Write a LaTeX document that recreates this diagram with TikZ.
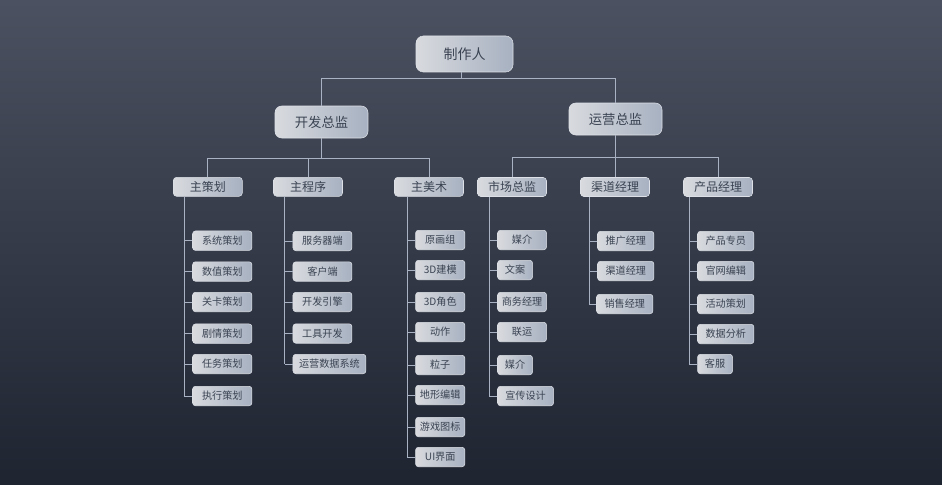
\documentclass[tikz,border=0pt]{standalone}
\usepackage{fontspec}
\setmainfont{Noto Sans CJK SC}
\usetikzlibrary{calc}
\definecolor{bgtop}{HTML}{4B5160}
\definecolor{bgbot}{HTML}{1F2431}
\definecolor{boxl}{HTML}{D8DADE}
\definecolor{boxr}{HTML}{A7B1C1}
\definecolor{boxtext}{HTML}{3A4352}
\definecolor{boxline}{HTML}{DDE1E7}
\definecolor{conncol}{HTML}{A9B2C2}
\tikzset{
  box/.style={draw=boxline, line width=0.4pt, left color=boxl, right color=boxr,
    text=boxtext, inner sep=0pt, align=center},
  topbox/.style={box, rounded corners=5.5pt, minimum width=72.75pt, minimum height=27pt,
    font=\fontsize{10.5}{12}\selectfont},
  dirbox/.style={box, rounded corners=5pt, minimum width=69.75pt, minimum height=24pt,
    font=\fontsize{10}{12}\selectfont},
  midbox/.style={box, rounded corners=2.5pt, minimum width=51.75pt, minimum height=14.25pt,
    font=\fontsize{9}{11}\selectfont},
  leaf/.style={box, rounded corners=2.2pt, minimum height=14.6pt, anchor=west,
    font=\fontsize{7.6}{9}\selectfont},
  conn/.style={draw=conncol, line width=0.75pt}
}
\begin{document}
\begin{tikzpicture}[x=0.75pt,y=-0.75pt]
\shade[top color=bgtop, bottom color=bgbot] (0,0) rectangle (942,485);
\useasboundingbox (0,0) rectangle (942,485);

% top levels
\node[topbox] (boss) at (464.5,54) {制作人};
\node[dirbox] (dev) at (321.5,122) {开发总监};
\node[dirbox] (ops) at (615.5,119) {运营总监};
\coordinate (j0) at (461,79);
\draw[conn] (boss.south -| j0) -- (j0);
\draw[conn] (dev.north) -- (dev.north |- j0) -- (ops.north |- j0) -- (ops.north);

% second level
\node[midbox] (pA) at (207.8,186.8) {主策划};
\node[midbox] (pB) at (308,186.8) {主程序};
\node[midbox] (pC) at (429,186.8) {主美术};
\node[midbox] (pD) at (512,187) {市场总监};
\node[midbox] (pE) at (615,187) {渠道经理};
\node[midbox] (pF) at (718,187) {产品经理};

\coordinate (j1) at (321.5,158);
\draw[conn] (dev.south) -- (dev.south |- j1);
\draw[conn] (pA.north) -- (pA.north |- j1) -- (pC.north |- j1) -- (pC.north);
\draw[conn] (pB.north) -- (pB.north |- j1);
\coordinate (j2) at (615.5,157);
\draw[conn] (ops.south) -- (ops.south |- j2);
\draw[conn] (pD.north) -- (pD.north |- j2) -- (pF.north |- j2) -- (pF.north);
\draw[conn] (pE.north) -- (pE.north |- j2);

% spines
\coordinate (sA) at (184.3,0);
\coordinate (sB) at (284.7,0);
\coordinate (sC) at (407.3,0);
\coordinate (sD) at (489.3,0);
\coordinate (sE) at (589.3,0);
\coordinate (sF) at (689.3,0);

% column A
\foreach \t/\y [count=\i] in {系统策划/240.7, 数值策划/271.5, 关卡策划/302, 剧情策划/333.7, 任务策划/364, 执行策划/396}{
  \node[leaf, minimum width=44.55pt] (A\i) at (192.3,\y) {\t};
  \draw[conn] (A\i.west) -- (A\i.west -| sA);
}
\draw[conn] (pA.south -| sA) -- (A6.west -| sA);

% column B
\foreach \t/\y/\w [count=\i] in {服务器端/241/44.25pt, 客户端/271.5/44.25pt, 开发引擎/302/44.25pt, 工具开发/333.5/44.25pt, 运营数据系统/364/54.75pt}{
  \node[leaf, minimum width=\w] (B\i) at (292.7,\y) {\t};
  \draw[conn] (B\i.west) -- (B\i.west -| sB);
}
\draw[conn] (pB.south -| sB) -- (B5.west -| sB);

% column C
\foreach \t/\y [count=\i] in {原画组/240, 3D建模/270, 3D角色/302, 动作/332, 粒子/365, 地形编辑/395, 游戏图标/427, UI界面/457}{
  \node[leaf, minimum width=37pt] (C\i) at (415.3,\y) {\t};
  \draw[conn] (C\i.west) -- (C\i.west -| sC);
}
\draw[conn] (pC.south -| sC) -- (C8.west -| sC);

% column D
\foreach \t/\y/\w [count=\i] in {媒介/240/36.75pt, 文案/270/26.25pt, 商务经理/302/36.75pt, 联运/332/36.75pt, 媒介/365/26.25pt, 宣传设计/396/42pt}{
  \node[leaf, minimum width=\w] (D\i) at (497.3,\y) {\t};
  \draw[conn] (D\i.west) -- (D\i.west -| sD);
}
\draw[conn] (pD.south -| sD) -- (D6.west -| sD);

% column E
\foreach \t/\y/\x [count=\i] in {推广经理/241/597.3, 渠道经理/271/597.3, 销售经理/304/596.3}{
  \node[leaf, minimum width=42.3pt] (E\i) at (\x,\y) {\t};
  \draw[conn] (E\i.west) -- (E\i.west -| sE);
}
\draw[conn] (pE.south -| sE) -- (E3.west -| sE);

% column F
\foreach \t/\y/\w [count=\i] in {产品专员/241/42.3pt, 官网编辑/271/42.3pt, 活动策划/304/42.3pt, 数据分析/334/42.3pt, 客服/364/26.25pt}{
  \node[leaf, minimum width=\w] (F\i) at (697.3,\y) {\t};
  \draw[conn] (F\i.west) -- (F\i.west -| sF);
}
\draw[conn] (pF.south -| sF) -- (F5.west -| sF);
\end{tikzpicture}
\end{document}
